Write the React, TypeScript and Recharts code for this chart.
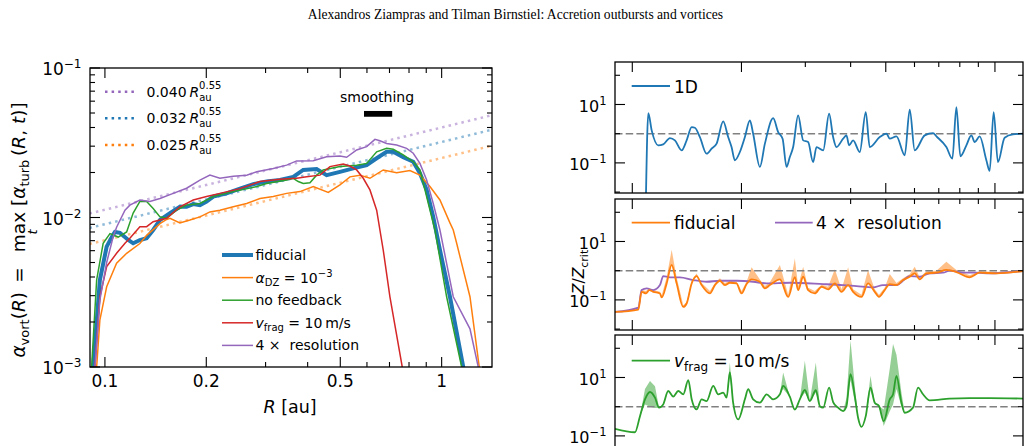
import React from 'react';
import {
  ComposedChart,
  Line,
  Area,
  XAxis,
  YAxis,
  ReferenceLine,
  ReferenceArea,
} from 'recharts';

type P = [number, number];

// ---------- left panel: alpha_vort(R) = max_t alpha_turb(R, t) ----------
// [R in au, alpha]
const fiducial: P[] = [
  [0.0918, 0.0009], [0.0923, 0.001], [0.0966, 0.00382], [0.1012, 0.00638], [0.1058, 0.0077],
  [0.1071, 0.008], [0.1108, 0.0079], [0.1173, 0.00707], [0.1213, 0.00672], [0.127, 0.00707],
  [0.133, 0.00726], [0.1391, 0.00825], [0.1457, 0.00962], [0.156, 0.0107], [0.167, 0.0118],
  [0.1748, 0.0118], [0.1829, 0.0123], [0.1915, 0.0121], [0.2004, 0.0128], [0.2097, 0.0138],
  [0.2298, 0.0145], [0.2518, 0.0156], [0.2758, 0.0167], [0.3021, 0.0174], [0.331, 0.0178],
  [0.3625, 0.0187], [0.3881, 0.0208], [0.4253, 0.0211], [0.4554, 0.0192], [0.4988, 0.0202],
  [0.5463, 0.0213], [0.5987, 0.0224], [0.6412, 0.0249], [0.6864, 0.0275], [0.7182, 0.0275],
  [0.769, 0.0253], [0.8234, 0.0236], [0.862, 0.0198], [0.9025, 0.0153], [0.9441, 0.0101],
  [0.9884, 0.00606], [1.0583, 0.00295], [1.1594, 0.001], [1.17, 0.0009],
];
const alphaDZ: P[] = [
  [0.094, 0.0009], [0.0945, 0.001], [0.0966, 0.00206], [0.1012, 0.00344], [0.1083, 0.00494],
  [0.116, 0.00576], [0.127, 0.0067], [0.133, 0.0076], [0.1391, 0.0083], [0.1457, 0.0091],
  [0.1525, 0.0097], [0.156, 0.00988], [0.167, 0.0092], [0.1788, 0.00962], [0.1915, 0.0101],
  [0.205, 0.0109], [0.2195, 0.0112], [0.2405, 0.0118], [0.2636, 0.0124], [0.2886, 0.0134],
  [0.3162, 0.0138], [0.3465, 0.0145], [0.3795, 0.0149], [0.4156, 0.0161], [0.4605, 0.0147],
  [0.4988, 0.0165], [0.5341, 0.0187], [0.572, 0.0192], [0.6124, 0.0183], [0.6707, 0.0208],
  [0.7351, 0.0199], [0.805, 0.0206], [0.862, 0.0192], [0.9231, 0.0161], [0.9884, 0.0131],
  [1.0583, 0.0092], [1.0826, 0.00825], [1.1081, 0.00672], [1.2137, 0.00295], [1.2933, 0.001],
  [1.3, 0.0009],
];
const noFeedback: P[] = [
  [0.0908, 0.0009], [0.0913, 0.001], [0.0945, 0.00382], [0.0988, 0.00672], [0.1035, 0.0078],
  [0.1095, 0.0074], [0.116, 0.008], [0.1213, 0.0107], [0.127, 0.0128], [0.133, 0.0128],
  [0.1391, 0.0115], [0.1457, 0.0101], [0.1525, 0.00988], [0.1633, 0.0112], [0.1748, 0.0121],
  [0.1915, 0.0124], [0.2097, 0.0138], [0.2405, 0.0149], [0.2823, 0.0161], [0.3021, 0.0169],
  [0.3465, 0.0178], [0.3625, 0.0183], [0.3751, 0.0174], [0.3881, 0.0169], [0.4063, 0.0171],
  [0.4253, 0.0192], [0.445, 0.0208], [0.4988, 0.0219], [0.5592, 0.0224], [0.5987, 0.023],
  [0.6412, 0.0275], [0.6864, 0.029], [0.7182, 0.0286], [0.769, 0.0262], [0.8234, 0.0236],
  [0.862, 0.0208], [0.8921, 0.0153], [0.9552, 0.00825], [1.0347, 0.00295], [1.1466, 0.001],
  [1.157, 0.0009],
];
const vfrag10: P[] = [
  [0.0929, 0.0009], [0.0934, 0.001], [0.0966, 0.00295], [0.1012, 0.00469], [0.1083, 0.00576],
  [0.1147, 0.00672], [0.1186, 0.00726], [0.127, 0.00868], [0.133, 0.00868], [0.1391, 0.00937],
  [0.1457, 0.00962], [0.1525, 0.00988], [0.167, 0.0118], [0.1829, 0.0131], [0.2004, 0.0138],
  [0.2195, 0.0145], [0.2518, 0.0156], [0.2886, 0.0174], [0.331, 0.018], [0.371, 0.0183],
  [0.3972, 0.0187], [0.435, 0.0192], [0.4658, 0.0219], [0.5102, 0.0228], [0.5341, 0.0221],
  [0.5592, 0.0208], [0.5851, 0.0183], [0.6124, 0.0153], [0.6412, 0.0112], [0.6707, 0.00606],
  [0.7021, 0.00295], [0.7638, 0.001], [0.772, 0.0009],
];
const res4x: P[] = [
  [0.0929, 0.0009], [0.0934, 0.001], [0.0966, 0.0028], [0.1012, 0.005], [0.1058, 0.00744],
  [0.1083, 0.0086], [0.1147, 0.0112], [0.1186, 0.0121], [0.127, 0.0131], [0.136, 0.0128],
  [0.1457, 0.0134], [0.1595, 0.0145], [0.1748, 0.0157], [0.1915, 0.0178], [0.205, 0.0192],
  [0.2195, 0.0183], [0.2405, 0.0189], [0.2636, 0.0192], [0.2823, 0.0202], [0.3162, 0.0213],
  [0.3465, 0.0224], [0.371, 0.0239], [0.4156, 0.024], [0.4554, 0.0255], [0.4988, 0.0258],
  [0.5222, 0.0253], [0.5592, 0.0283], [0.5987, 0.0298], [0.6338, 0.0333], [0.6557, 0.0326],
  [0.6864, 0.0313], [0.7351, 0.0305], [0.787, 0.029], [0.8234, 0.0269], [0.862, 0.023],
  [0.9025, 0.0178], [0.9441, 0.0124], [0.9884, 0.00825], [1.0826, 0.00295], [1.2137, 0.0018],
  [1.2844, 0.001], [1.3, 0.0009],
];

// power-law guides: alpha = c * R^0.55
const guideCoeffs = [0.04, 0.032, 0.025];
const guideLabels = ['0.040', '0.032', '0.025'];
const guideExponent = 0.55;
const guideR = [0.09, 1.42];

// radial smoothing window
const smoothingR: P = [0.588, 0.713];
const smoothingAlpha: P = [0.0472, 0.0516];

// ---------- right panels: Z / Z_crit ----------
const zOneD: P[] = [
  [0.109, 0.005], [0.1107, 5.05], [0.1131, 1.3], [0.1179, 0.399], [0.1217, 0.432], [0.127, 0.708],
  [0.1311, 0.59], [0.1368, 0.269], [0.1412, 0.59], [0.1458, 1.68], [0.1488, 1.6], [0.1536, 0.766],
  [0.1603, 0.207], [0.1655, 0.308], [0.1708, 0.456], [0.1781, 2.63], [0.1838, 0.766], [0.1878, 0.349],
  [0.1918, 0.123], [0.198, 0.236], [0.2044, 0.766], [0.211, 2.85], [0.2154, 1.0], [0.2248, 0.0725],
  [0.2321, 0.456], [0.2446, 3.4], [0.2525, 1.135], [0.2597, 0.675], [0.2663, 0.0725], [0.2719, 0.159],
  [0.2777, 0.349], [0.2866, 4.22], [0.2959, 0.59], [0.3054, 0.516], [0.3152, 0.107], [0.3221, 0.349],
  [0.336, 0.269], [0.3489, 4.82], [0.3579, 0.766], [0.3657, 0.349], [0.3814, 0.675], [0.3896, 0.875],
  [0.3961, 0.399], [0.4063, 0.59], [0.4239, 0.236], [0.4403, 5.46], [0.4516, 0.349], [0.4813, 0.766],
  [0.5022, 1.0], [0.5128, 0.675], [0.5351, 0.809], [0.564, 0.182], [0.5821, 6.59], [0.6009, 0.269],
  [0.6403, 0.875], [0.6749, 1.05], [0.6896, 0.809], [0.7346, 0.349], [0.7631, 0.14], [0.7828, 8.09],
  [0.8029, 0.168], [0.8341, 0.399], [0.861, 0.875], [0.8793, 0.516], [0.9077, 0.809], [0.947, 0.123],
  [0.967, 0.053], [0.9918, 5.46], [1.0192, 0.107], [1.0634, 0.729], [1.1209, 0.946], [1.1944, 1.0],
];

// [R, Z, upper envelope over snapshots]
const zFiducial: [number, number, number][] = [
  [0.0896, 0.0386, 0.0386], [0.1039, 0.0467, 0.0467], [0.1061, 0.189, 0.22], [0.1091, 0.166, 0.2],
  [0.1114, 0.216, 0.25], [0.1142, 0.189, 0.22], [0.1192, 0.166, 0.19], [0.1205, 0.121, 0.14],
  [0.1244, 0.368, 0.6], [0.1284, 1.57, 5.18], [0.1325, 0.368, 0.6], [0.1382, 0.0574, 0.065],
  [0.1412, 0.0752, 0.085], [0.1458, 0.368, 0.45], [0.1504, 0.656, 0.8], [0.1553, 0.321, 0.38],
  [0.1637, 0.166, 0.2], [0.169, 0.321, 0.38], [0.1744, 0.452, 0.55], [0.18, 0.321, 0.38],
  [0.1858, 0.386, 0.45], [0.1938, 0.368, 0.42], [0.2001, 0.166, 0.2], [0.2066, 0.348, 0.42],
  [0.2133, 0.505, 1.31], [0.2248, 0.418, 0.5], [0.2321, 0.247, 0.3], [0.2395, 0.321, 0.4],
  [0.2553, 0.505, 1.57], [0.2691, 0.127, 0.15], [0.2807, 0.6, 2.6], [0.2866, 0.216, 0.3],
  [0.2959, 0.621, 1.37], [0.3054, 0.216, 0.26], [0.3186, 0.166, 0.2], [0.3325, 0.281, 0.33],
  [0.3467, 0.229, 0.28], [0.3618, 0.368, 1.12], [0.3775, 0.189, 0.23], [0.3936, 0.321, 1.31],
  [0.4063, 0.189, 0.23], [0.4285, 0.127, 0.15], [0.4467, 0.368, 1.06], [0.4661, 0.189, 0.23],
  [0.4789, 0.127, 0.15], [0.4966, 0.216, 0.26], [0.5128, 0.348, 0.769], [0.5351, 0.321, 0.38],
  [0.558, 0.478, 0.55], [0.5821, 0.621, 0.75], [0.6009, 0.813, 1.37], [0.6203, 0.505, 0.6],
  [0.6471, 0.813, 0.95], [0.6896, 0.853, 1.0], [0.7346, 1.06, 2.04], [0.7828, 0.9, 1.05],
  [0.8517, 0.592, 0.7], [0.9077, 0.853, 0.95], [1.009, 0.813, 0.9], [1.1944, 0.977, 1.0],
];
const zRes4x: P[] = [
  [0.0896, 0.0386], [0.1039, 0.0547], [0.1061, 0.216], [0.1096, 0.247], [0.1142, 0.216],
  [0.1192, 0.321], [0.1217, 0.656], [0.127, 0.592], [0.1353, 0.592], [0.1472, 0.478],
  [0.1603, 0.418], [0.1744, 0.452], [0.1938, 0.452], [0.2154, 0.418], [0.2346, 0.368],
  [0.2719, 0.386], [0.336, 0.348], [0.3814, 0.321], [0.4152, 0.297], [0.4611, 0.268],
  [0.4913, 0.321], [0.5351, 0.321], [0.5821, 0.656], [0.6203, 0.621], [0.6607, 0.813],
  [0.719, 0.853], [0.7502, 1.0], [0.8164, 0.853], [0.8888, 0.853], [0.967, 0.813], [1.1944, 0.977],
];
// [R, Z, (lower, upper envelope where it spreads)]
const zVfrag: number[][] = [
  [0.0896, 0.174], [0.1017, 0.133], [0.105, 0.474], [0.1084, 1.79, 1.2, 4], [0.1119, 3.19, 1.0, 7.6],
  [0.1155, 2.04, 0.9, 5], [0.1185, 0.924], [0.1217, 1.2], [0.1256, 3.45], [0.1297, 2.21],
  [0.1339, 3.45], [0.1382, 2.66], [0.1427, 8.07], [0.1458, 1.79], [0.1504, 0.807], [0.1553, 1.79],
  [0.1603, 1.56], [0.1672, 5.13], [0.1725, 2.66], [0.1781, 3.04], [0.182, 2.04],
  [0.1858, 14.9, 10, 32.9], [0.1897, 1.37], [0.1959, 0.365], [0.2044, 1.79], [0.2087, 3.95],
  [0.2154, 1.79], [0.2248, 1.37], [0.2346, 2.66], [0.2446, 1.79], [0.2553, 2.66],
  [0.2606, 5.13, 4, 14.9], [0.2719, 2.2], [0.2807, 0.8], [0.2897, 1.79], [0.2991, 3.73, 3, 37.3],
  [0.3087, 1.56], [0.3207, 3.65, 3, 32.9], [0.3289, 1.05], [0.336, 0.924], [0.3489, 4.52],
  [0.3579, 1.44], [0.3693, 0.924], [0.3814, 0.705], [0.3896, 1.05, 0.9, 2], [0.3997, 13.0, 8, 183],
  [0.4107, 2.32, 1.5, 5], [0.4194, 0.418], [0.4285, 0.204], [0.4403, 0.474], [0.4537, 4.52, 3.5, 11.4],
  [0.4661, 1.37], [0.4789, 1.05], [0.4935, 0.318, 0.22, 0.8], [0.5128, 1.79, 0.7, 20],
  [0.5236, 2.66, 1.2, 141], [0.5351, 11.4, 4, 60], [0.5523, 1.37, 1.0, 3], [0.564, 0.621],
  [0.5943, 0.924], [0.6136, 4.52], [0.6334, 2.66], [0.6607, 1.65], [0.7502, 1.89], [0.8517, 1.98],
  [0.967, 1.98], [1.1944, 1.89],
];

// ---------- axes ----------
const rTicks = [0.1, 0.2, 0.3, 0.4, 0.5, 0.6, 0.7, 0.8, 0.9, 1];
const rMajor = [0.1, 0.2, 0.5, 1];
const rLabels = ['0.1', '0.2', '0.5', '1'];
const alphaTicks = [
  0.001, 0.002, 0.003, 0.004, 0.005, 0.006, 0.007, 0.008, 0.009,
  0.01, 0.02, 0.03, 0.04, 0.05, 0.06, 0.07, 0.08, 0.09, 0.1,
];
const alphaMajor = [0.001, 0.01, 0.1];
const alphaExp = ['\u22123', '\u22122', '\u22121'];
const zTicks = [0.01, 0.1, 1, 10, 100];
const zMajor = [0.1, 10];
const zExp = ['\u22121', '1'];

// ---------- layout ----------
const W = 1031;
const H = 446;
const RH = 480;
const AXIS_W = 60; // y-axis band width reserved by recharts
const AXIS_H = 30; // x-axis band height reserved by recharts
const LP = { x0: 90, x1: 492, y0: 68, y1: 367 };
const RX = { x0: 615, x1: 1023 };
const panelTop = [62, 199, 335];
const PANEL_H = 131;
const FONT = '"DejaVu Sans", sans-serif';

const BLUE = '#1f77b4';
const ORANGE = '#ff7f0e';
const GREEN = '#2ca02c';
const RED = '#d62728';
const PURPLE = '#9467bd';
const guideColors = [PURPLE, BLUE, ORANGE];

const toXY = (pts: P[]) => pts.map(([x, y]) => ({ x, y }));

function AlphaPanel() {
  const guides = guideCoeffs.map((c) =>
    guideR.map((r) => ({ x: r, y: c * Math.pow(r, guideExponent) }))
  );
  const runs = [
    { pts: fiducial, color: BLUE, w: 4 },
    { pts: alphaDZ, color: ORANGE, w: 1.5 },
    { pts: noFeedback, color: GREEN, w: 1.5 },
    { pts: vfrag10, color: RED, w: 1.5 },
    { pts: res4x, color: PURPLE, w: 1.5 },
  ];
  const xTick = (p: any) => {
    const x = p.payload.coordinate;
    const i = rMajor.indexOf(p.payload.value);
    const len = i >= 0 ? 10 : 5;
    return (
      <g>
        <line x1={x} x2={x} y1={LP.y1} y2={LP.y1 - len} stroke="#000" strokeWidth={1.1} />
        <line x1={x} x2={x} y1={LP.y0} y2={LP.y0 + len} stroke="#000" strokeWidth={1.1} />
        {i >= 0 && (
          <text x={x} y={LP.y1 + 20} textAnchor="middle" fontSize={17} fontFamily={FONT} fill="#000">
            {rLabels[i]}
          </text>
        )}
      </g>
    );
  };
  const yTick = (p: any) => {
    const y = p.payload.coordinate;
    const i = alphaMajor.indexOf(p.payload.value);
    const len = i >= 0 ? 10 : 5;
    return (
      <g>
        <line x1={LP.x0} x2={LP.x0 + len} y1={y} y2={y} stroke="#000" strokeWidth={1.1} />
        <line x1={LP.x1} x2={LP.x1 - len} y1={y} y2={y} stroke="#000" strokeWidth={1.1} />
        {i >= 0 && (
          <text x={LP.x0 - 8.5} y={y + 7} textAnchor="end" fontSize={17} fontFamily={FONT} fill="#000">
            10<tspan dy={-7} fontSize={12}>{alphaExp[i]}</tspan>
          </text>
        )}
      </g>
    );
  };
  return (
    <div style={{ position: 'absolute', left: 0, top: 0 }}>
      <ComposedChart
        width={W}
        height={H}
        margin={{
          top: LP.y0,
          right: W - LP.x1,
          bottom: H - LP.y1 - AXIS_H,
          left: LP.x0 - AXIS_W,
        }}
      >
        <XAxis
          type="number"
          dataKey="x"
          scale="log"
          domain={[0.0903, 1.411]}
          allowDataOverflow
          ticks={rTicks}
          interval={0}
          tickLine={false}
          axisLine={false}
          height={AXIS_H}
          tick={xTick}
        />
        <YAxis
          type="number"
          scale="log"
          domain={[0.001, 0.1]}
          allowDataOverflow
          ticks={alphaTicks}
          interval={0}
          tickLine={false}
          axisLine={false}
          width={AXIS_W}
          tick={yTick}
        />
        {guides.map((g, i) => (
          <Line
            key={'guide' + i}
            data={g}
            dataKey="y"
            type="linear"
            stroke={guideColors[i]}
            strokeOpacity={0.5}
            strokeWidth={2.5}
            strokeDasharray="2.5 4.1"
            dot={false}
            activeDot={false}
            isAnimationActive={false}
          />
        ))}
        {runs.map((r, i) => (
          <Line
            key={'run' + i}
            data={toXY(r.pts)}
            dataKey="y"
            type="linear"
            stroke={r.color}
            strokeWidth={r.w}
            dot={false}
            activeDot={false}
            isAnimationActive={false}
          />
        ))}
        <ReferenceArea
          x1={smoothingR[0]}
          x2={smoothingR[1]}
          y1={smoothingAlpha[0]}
          y2={smoothingAlpha[1]}
          fill="#000"
          fillOpacity={1}
          stroke="none"
        />
      </ComposedChart>
    </div>
  );
}

function ZPanel({ idx, data, children }: { idx: number; data?: any[]; children: React.ReactNode }) {
  const top = panelTop[idx];
  const bottom = top + PANEL_H;
  const xTick = (p: any) => {
    const x = p.payload.coordinate;
    const len = rMajor.indexOf(p.payload.value) >= 0 ? 10 : 5;
    return (
      <g>
        <line x1={x} x2={x} y1={bottom} y2={bottom - len} stroke="#000" strokeWidth={1.1} />
        <line x1={x} x2={x} y1={top} y2={top + len} stroke="#000" strokeWidth={1.1} />
      </g>
    );
  };
  const yTick = (p: any) => {
    const y = p.payload.coordinate;
    const i = zMajor.indexOf(p.payload.value);
    const len = i >= 0 ? 10 : 5;
    return (
      <g>
        <line x1={RX.x0} x2={RX.x0 + len} y1={y} y2={y} stroke="#000" strokeWidth={1.1} />
        <line x1={RX.x1} x2={RX.x1 - len} y1={y} y2={y} stroke="#000" strokeWidth={1.1} />
        {i >= 0 && (
          <text x={RX.x0 - 8.5} y={y + 7.5} textAnchor="end" fontSize={16} fontFamily={FONT} fill="#000">
            10<tspan dy={-7} fontSize={11.5}>{zExp[i]}</tspan>
          </text>
        )}
      </g>
    );
  };
  return (
    <div style={{ position: 'absolute', left: 0, top: 0 }}>
      <ComposedChart
        width={W}
        height={RH}
        data={data}
        margin={{
          top,
          right: W - RX.x1,
          bottom: RH - bottom - AXIS_H,
          left: RX.x0 - AXIS_W,
        }}
      >
        <XAxis
          type="number"
          dataKey="x"
          scale="log"
          domain={[0.0896, 1.195]}
          allowDataOverflow
          ticks={rTicks}
          interval={0}
          tickLine={false}
          axisLine={false}
          height={AXIS_H}
          tick={xTick}
        />
        <YAxis
          type="number"
          scale="log"
          domain={[0.00931, 285]}
          allowDataOverflow
          ticks={zTicks}
          interval={0}
          tickLine={false}
          axisLine={false}
          width={AXIS_W}
          tick={yTick}
        />
        <ReferenceLine y={1} stroke="#808080" strokeWidth={1.5} strokeDasharray="7.5 3.2" />
        {children}
      </ComposedChart>
    </div>
  );
}

function Overlay() {
  const legendLines = [
    { color: BLUE, w: 4, label: <>fiducial</> },
    {
      color: ORANGE,
      w: 1.5,
      label: (
        <>
          <tspan fontStyle="italic">α</tspan>
          <tspan dy={3.5} fontSize={10}>DZ</tspan>
          <tspan dy={-3.5}> = 10</tspan>
          <tspan dy={-6} fontSize={10}>{'\u22123'}</tspan>
        </>
      ),
    },
    { color: GREEN, w: 1.5, label: <>no feedback</> },
    {
      color: RED,
      w: 1.5,
      label: (
        <>
          <tspan fontStyle="italic">v</tspan>
          <tspan dy={3.5} fontSize={10}>frag</tspan>
          <tspan dy={-3.5}> = 10{'\u2009'}m/s</tspan>
        </>
      ),
    },
    { color: PURPLE, w: 1.5, label: <>4 ×{'\u00a0'} resolution</> },
  ];
  return (
    <svg
      width={W}
      height={H}
      style={{ position: 'absolute', left: 0, top: 0, pointerEvents: 'none' }}
      fontFamily={FONT}
      fill="#000"
    >
      <text
        x={515.5}
        y={18.5}
        textAnchor="middle"
        fontFamily='"Liberation Serif", "Times New Roman", serif'
        fontSize={13.6}
      >
        Alexandros Ziampras and Tilman Birnstiel: Accretion outbursts and vortices
      </text>

      {/* frames */}
      <rect x={LP.x0} y={LP.y0} width={LP.x1 - LP.x0} height={LP.y1 - LP.y0} fill="none" stroke="#000" strokeWidth={1.3} />
      {panelTop.map((t) => (
        <rect key={t} x={RX.x0} y={t} width={RX.x1 - RX.x0} height={PANEL_H} fill="none" stroke="#000" strokeWidth={1.3} />
      ))}

      {/* left y label */}
      <g transform="rotate(-90)" fontSize={18.5}>
        <text x={-258} y={25} textAnchor="end">
          <tspan fontStyle="italic">α</tspan>
          <tspan dy={4} fontSize={13}>vort</tspan>
          <tspan dy={-4}>(</tspan>
          <tspan fontStyle="italic">R</tspan>
          <tspan>){'\u2002'}={'\u2002'}</tspan>
        </text>
        <text x={-232} y={25} textAnchor="middle">max</text>
        <text x={-232} y={37} textAnchor="middle" fontSize={13} fontStyle="italic">t</text>
        <text x={-206} y={25} textAnchor="start">
          <tspan>[</tspan>
          <tspan fontStyle="italic">α</tspan>
          <tspan dy={4} fontSize={13}>turb</tspan>
          <tspan dy={-4}>{'\u2009'}(</tspan>
          <tspan fontStyle="italic">R</tspan>
          <tspan>, </tspan>
          <tspan fontStyle="italic">t</tspan>
          <tspan>)]</tspan>
        </text>
      </g>

      {/* left x label */}
      <text x={290} y={412.5} textAnchor="middle" fontSize={17.5}>
        <tspan fontStyle="italic">R</tspan> [au]
      </text>

      {/* smoothing annotation */}
      <text x={377} y={101.5} textAnchor="middle" fontSize={14}>smoothing</text>

      {/* power-law legend */}
      {guideLabels.map((lab, i) => {
        const y = 91.7 + i * 26.65;
        return (
          <g key={lab}>
            <line x1={105} x2={137} y1={y} y2={y} stroke={guideColors[i]} strokeWidth={2.5} strokeDasharray="2.5 4.1" />
            <text x={146.5} y={y + 5} fontSize={14}>
              {lab}
              {'\u2009'}
              <tspan fontStyle="italic">R</tspan>
              <tspan dy={4} fontSize={10}>au</tspan>
              <tspan dx={-12.5} dy={-12} fontSize={10}>0.55</tspan>
            </text>
          </g>
        );
      })}

      {/* run legend */}
      {legendLines.map((l, i) => {
        const y = 255 + i * 22.6;
        return (
          <g key={i}>
            <line x1={222} x2={253} y1={y} y2={y} stroke={l.color} strokeWidth={l.w} />
            <text x={255.5} y={y + 5} fontSize={14}>{l.label}</text>
          </g>
        );
      })}

      {/* right y label */}
      <g transform="rotate(-90)" fontSize={15.5}>
        <text x={-272} y={584} textAnchor="middle">
          <tspan fontStyle="italic">Z</tspan>/<tspan fontStyle="italic">Z</tspan>
          <tspan dy={3.5} fontSize={11}>crit</tspan>
        </text>
      </g>

      {/* right legends */}
      <line x1={631.7} x2={670} y1={86} y2={86} stroke={BLUE} strokeWidth={1.8} />
      <text x={674} y={92.5} fontSize={17}>1D</text>

      <line x1={631.7} x2={670} y1={222.7} y2={222.7} stroke={ORANGE} strokeWidth={1.8} />
      <text x={674} y={229} fontSize={17}>fiducial</text>
      <line x1={775} x2={812.7} y1={222.7} y2={222.7} stroke={PURPLE} strokeWidth={1.8} />
      <text x={816} y={229} fontSize={17}>4 ×{'\u00a0'} resolution</text>

      <line x1={631.7} x2={670} y1={360.7} y2={360.7} stroke={GREEN} strokeWidth={1.8} />
      <text x={674} y={366.5} fontSize={17}>
        <tspan fontStyle="italic">v</tspan>
        <tspan dy={4.5} fontSize={12}>frag</tspan>
        <tspan dy={-4.5}> = 10{'\u2009'}m/s</tspan>
      </text>
    </svg>
  );
}

export default function App() {
  const oneD = toXY(zOneD);
  const fid = zFiducial.map(([x, y, hi]) => ({ x, y, band: [y, hi] }));
  const vf = zVfrag.map((d) => ({ x: d[0], y: d[1], band: [d[2] ?? d[1], d[3] ?? d[1]] }));
  return (
    <div
      style={{
        position: 'absolute',
        left: 0,
        top: 0,
        width: W,
        height: H,
        overflow: 'hidden',
        background: '#fff',
        fontFamily: FONT,
      }}
    >
      <AlphaPanel />
      <ZPanel idx={0} data={oneD}>
        <Line dataKey="y" type="monotoneX" stroke={BLUE} strokeWidth={1.8} dot={false} activeDot={false} isAnimationActive={false} />
      </ZPanel>
      <ZPanel idx={1} data={fid}>
        <Line data={toXY(zRes4x)} dataKey="y" type="monotoneX" stroke={PURPLE} strokeWidth={1.8} dot={false} activeDot={false} isAnimationActive={false} />
        <Area dataKey="band" type="linear" stroke="none" fill={ORANGE} fillOpacity={0.5} isAnimationActive={false} activeDot={false} />
        <Line dataKey="y" type="monotoneX" stroke={ORANGE} strokeWidth={1.8} dot={false} activeDot={false} isAnimationActive={false} />
      </ZPanel>
      <ZPanel idx={2} data={vf}>
        <Area dataKey="band" type="linear" stroke="none" fill={GREEN} fillOpacity={0.5} isAnimationActive={false} activeDot={false} />
        <Line dataKey="y" type="monotoneX" stroke={GREEN} strokeWidth={1.8} dot={false} activeDot={false} isAnimationActive={false} />
      </ZPanel>
      <Overlay />
    </div>
  );
}
